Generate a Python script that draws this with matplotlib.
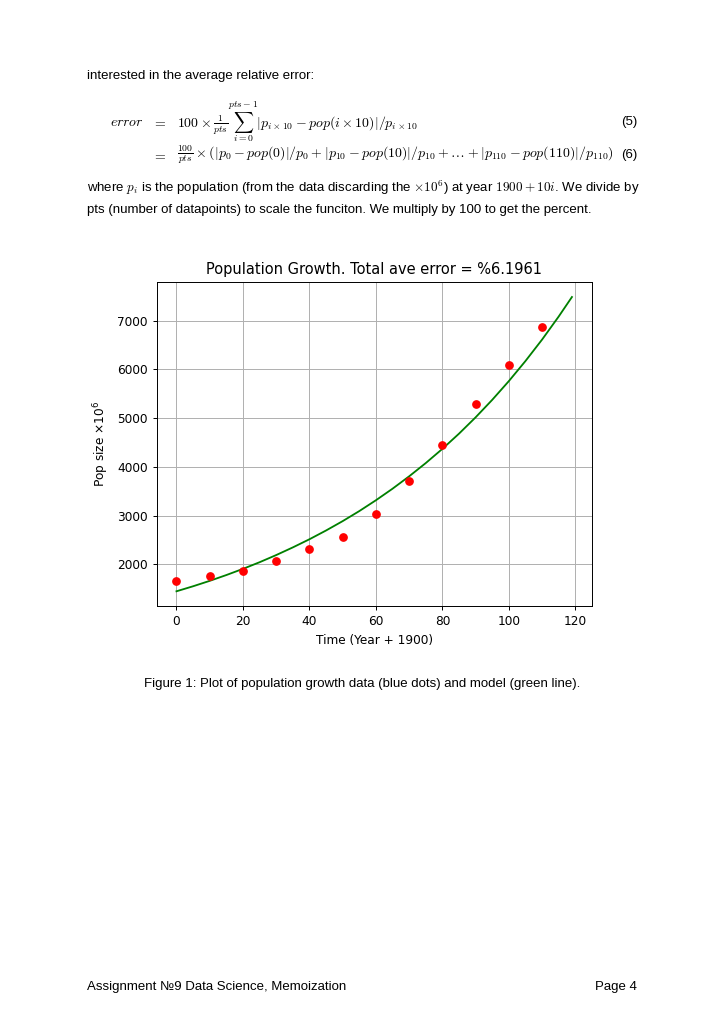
import numpy as np
import matplotlib
matplotlib.use("Agg")
import matplotlib.pyplot as plt

# data
years = [0, 10, 20, 30, 40, 50, 60, 70, 80, 90, 100, 110]
pop = [1650, 1760, 1870, 2070, 2310, 2560, 3040, 3710, 4450, 5280, 6080, 6860]
model_t = [0, 5, 10, 15, 20, 25, 30, 35, 40, 45, 50, 55, 60, 65, 70, 75, 80, 85,
           90, 95, 100, 105, 110, 115, 119]
model_pop = [1447, 1550, 1661, 1780, 1907, 2043, 2190, 2347, 2514, 2694, 2886, 3092,
             3314, 3551, 3805, 4077, 4368, 4680, 5015, 5374, 5758, 6170, 6610, 7083, 7485]

title = 'Population Growth. Total ave error = %6.1961'
xlab = 'Time (Year + 1900)'
ylab = r'Pop size $\times10^6$'

W, H = 724, 1024
fig = plt.figure(figsize=(W / 100, H / 100), dpi=100, facecolor='w')


def put(x, y, s, **kw):
    """place text using page pixel coords"""
    kw.setdefault('family', 'Liberation Sans')
    kw.setdefault('fontsize', 9.5)
    kw.setdefault('math_fontfamily', 'cm')
    kw.setdefault('va', 'center')
    fig.text(x / W, 1 - y / H, s, **kw)


# --- page text ---
put(87, 76, 'interested in the average relative error:')

eq_fs = 10
put(144, 122, r'$error$', ha='right', fontsize=eq_fs)
put(159, 122, r'$=$', ha='center', fontsize=eq_fs)
put(177, 122, r'$100\times\frac{1}{pts}\sum_{i=0}^{pts-1}|p_{i\times10}-pop(i\times10)|/p_{i\times10}$',
    fontsize=eq_fs)
put(637, 122, '(5)', ha='right')
put(159, 155, r'$=$', ha='center', fontsize=eq_fs)
put(177, 155, r'$\frac{100}{pts}\times(|p_0-pop(0)|/p_0+|p_{10}-pop(10)|/p_{10}+\ldots+|p_{110}-pop(110)|/p_{110})$',
    fontsize=eq_fs)
put(637, 155, '(6)', ha='right')

put(87, 188, r'where $p_i$ is the population (from the data discarding the $\times10^6$) at year $1900+10i$. We divide by')
put(87, 210, 'pts (number of datapoints) to scale the funciton. We multiply by 100 to get the percent.')

put(144, 684, 'Figure 1: Plot of population growth data (blue dots) and model (green line).')
put(87, 987, 'Assignment №9 Data Science, Memoization', family=['Liberation Sans', 'DejaVu Sans'])
put(637, 987, 'Page 4', ha='right')

# --- the chart ---
s = 0.877  # the embedded figure is scaled down a bit
ax = fig.add_axes([156.7 / W, 1 - 606 / H, 435 / W, 323.7 / H])
ax.plot(model_t, model_pop, 'g', lw=1.5 * s)
ax.plot(years, pop, 'ro', ms=6 * s)
ax.grid(True, color='#b0b0b0', lw=0.8 * s)
ax.set_axisbelow(True)
ax.set_title(title, fontsize=12 * s, family='DejaVu Sans')
ax.set_xlabel(xlab, fontsize=10 * s, family='DejaVu Sans')
ax.set_ylabel(ylab, fontsize=10 * s, family='DejaVu Sans')
ax.set_xticks([0, 20, 40, 60, 80, 100, 120])
ax.set_yticks([2000, 3000, 4000, 5000, 6000, 7000])
ax.tick_params(labelsize=10 * s, length=3.5 * s, width=0.8 * s)
for sp in ax.spines.values():
    sp.set_linewidth(0.8 * s)

fig.savefig('out.png', dpi=100)
